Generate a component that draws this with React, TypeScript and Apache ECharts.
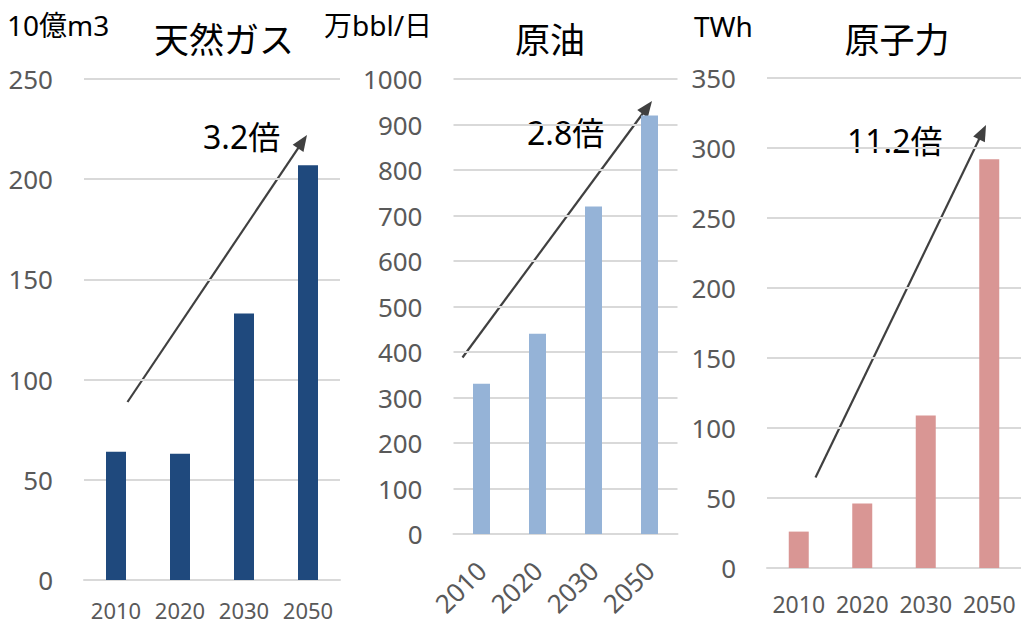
import React, { useEffect, useRef } from "react";
import * as echarts from "echarts";

const categories = ["2010", "2020", "2030", "2050"];
const gasValues = [64, 63, 133, 207];
const oilValues = [330, 440, 720, 920];
const nuclearValues = [26, 46, 109, 292];

const titles = ["天然ガス", "原油", "原子力"];
const units = ["10億m3", "万bbl/日", "TWh"];
const growthLabels = ["3.2倍", "2.8倍", "11.2倍"];

const FONT = "'Noto Sans', 'Noto Sans CJK JP', sans-serif";
const CJK = "'Noto Sans CJK JP', 'Noto Sans', sans-serif";

// layout of annotations (pixels)
const arrows = [
  { from: [127.5, 402], to: [307, 135] },
  { from: [462.5, 357.5], to: [652, 101] },
  { from: [815.5, 477.5], to: [986, 125] },
];

function arrowGraphics(from: number[], to: number[]) {
  const dx = to[0] - from[0];
  const dy = to[1] - from[1];
  const len = Math.sqrt(dx * dx + dy * dy);
  const ux = dx / len;
  const uy = dy / len;
  const headLen = 16;
  const headW = 6.5;
  const bx = to[0] - ux * headLen;
  const by = to[1] - uy * headLen;
  const px = -uy;
  const py = ux;
  return [
    {
      type: "line",
      shape: { x1: from[0], y1: from[1], x2: bx + ux * 2, y2: by + uy * 2 },
      style: { stroke: "#404040", lineWidth: 2.2 },
      silent: true,
    },
    {
      type: "polygon",
      shape: {
        points: [
          [to[0], to[1]],
          [bx + px * headW, by + py * headW],
          [bx - px * headW, by - py * headW],
        ],
      },
      style: { fill: "#404040" },
      silent: true,
    },
  ];
}

function textEl(text: string, x: number, y: number, size: number, align: string, color: string, family: string) {
  return {
    type: "text",
    x,
    y,
    silent: true,
    style: {
      text,
      fill: color,
      fontSize: size,
      fontFamily: family,
      align,
      verticalAlign: "middle",
      textAlign: align,
      textVerticalAlign: "middle",
    },
  };
}

export default function App() {
  const ref = useRef<HTMLDivElement>(null);

  useEffect(() => {
    if (!ref.current) return;
    const chart = echarts.init(ref.current, undefined, { renderer: "svg" });

    const grids = [
      { left: 84, top: 79, width: 256, height: 501 },
      { left: 453.5, top: 79, width: 224, height: 455 },
      { left: 767, top: 78, width: 256, height: 490 },
    ];
    const yRanges = [
      { max: 250, interval: 50 },
      { max: 1000, interval: 100 },
      { max: 350, interval: 50 },
    ];
    const seriesData = [gasValues, oilValues, nuclearValues];
    const colors = ["#1F497D", "#95B3D7", "#D99694"];
    const barWidths = [20, 17, 20];
    const labelMargins = [30, 32, 36];

    const xAxis = grids.map((_, i) => ({
      type: "category",
      gridIndex: i,
      data: categories,
      axisLine: { show: true, lineStyle: { color: "#d9d9d9", width: 2 } },
      axisTick: { show: false },
      axisLabel:
        i === 1
          ? {
              interval: 0,
              hideOverlap: false,
              rotate: 45,
              align: "right",
              verticalAlign: "middle",
              margin: labelMargins[i],
              color: "#595959",
              fontSize: 26,
              fontFamily: FONT,
            }
          : {
              interval: 0,
              hideOverlap: false,
              margin: labelMargins[i],
              color: "#595959",
              fontSize: i === 0 ? 22 : 23,
              lineHeight: 18,
              fontFamily: FONT,
              verticalAlign: "middle",
            },
    }));

    const yAxis = grids.map((_, i) => ({
      type: "value",
      gridIndex: i,
      min: 0,
      max: yRanges[i].max,
      interval: yRanges[i].interval,
      axisLine: { show: false },
      axisTick: { show: false },
      splitLine: { lineStyle: { color: "#d9d9d9", width: 2 } },
      axisLabel: {
        margin: 31,
        color: "#595959",
        fontSize: 26,
        fontFamily: FONT,
        formatter: (v: number) => String(v),
      },
    }));

    const series = grids.map((_, i) => ({
      type: "bar",
      xAxisIndex: i,
      yAxisIndex: i,
      data: seriesData[i],
      barWidth: barWidths[i],
      itemStyle: { color: colors[i] },
      silent: true,
    }));

    const graphic: any[] = [];
    // titles
    graphic.push(textEl(titles[0], 224, 37, 35, "center", "#000", CJK));
    graphic.push(textEl(titles[1], 550, 37, 35, "center", "#000", CJK));
    graphic.push(textEl(titles[2], 897, 37, 35, "center", "#000", CJK));
    // units
    graphic.push(textEl(units[0], 7, 25, 28, "left", "#000", FONT));
    graphic.push(textEl(units[1], 324, 25, 28, "left", "#000", FONT));
    graphic.push(textEl(units[2], 694, 26, 28, "left", "#000", FONT));
    // growth labels
    graphic.push(textEl(growthLabels[0], 203, 136, 32, "left", "#000", FONT));
    graphic.push(textEl(growthLabels[1], 527, 132, 32, "left", "#000", FONT));
    graphic.push(textEl(growthLabels[2], 847, 140, 32, "left", "#000", FONT));
    arrows.forEach((a) => graphic.push(...arrowGraphics(a.from, a.to)));

    chart.setOption({
      animation: false,
      backgroundColor: "#ffffff",
      grid: grids,
      xAxis,
      yAxis,
      series,
      graphic,
    });

    return () => chart.dispose();
  }, []);

  return (
    <div
      ref={ref}
      style={{ position: "absolute", left: 0, top: 0, width: 1021, height: 625 }}
    />
  );
}
